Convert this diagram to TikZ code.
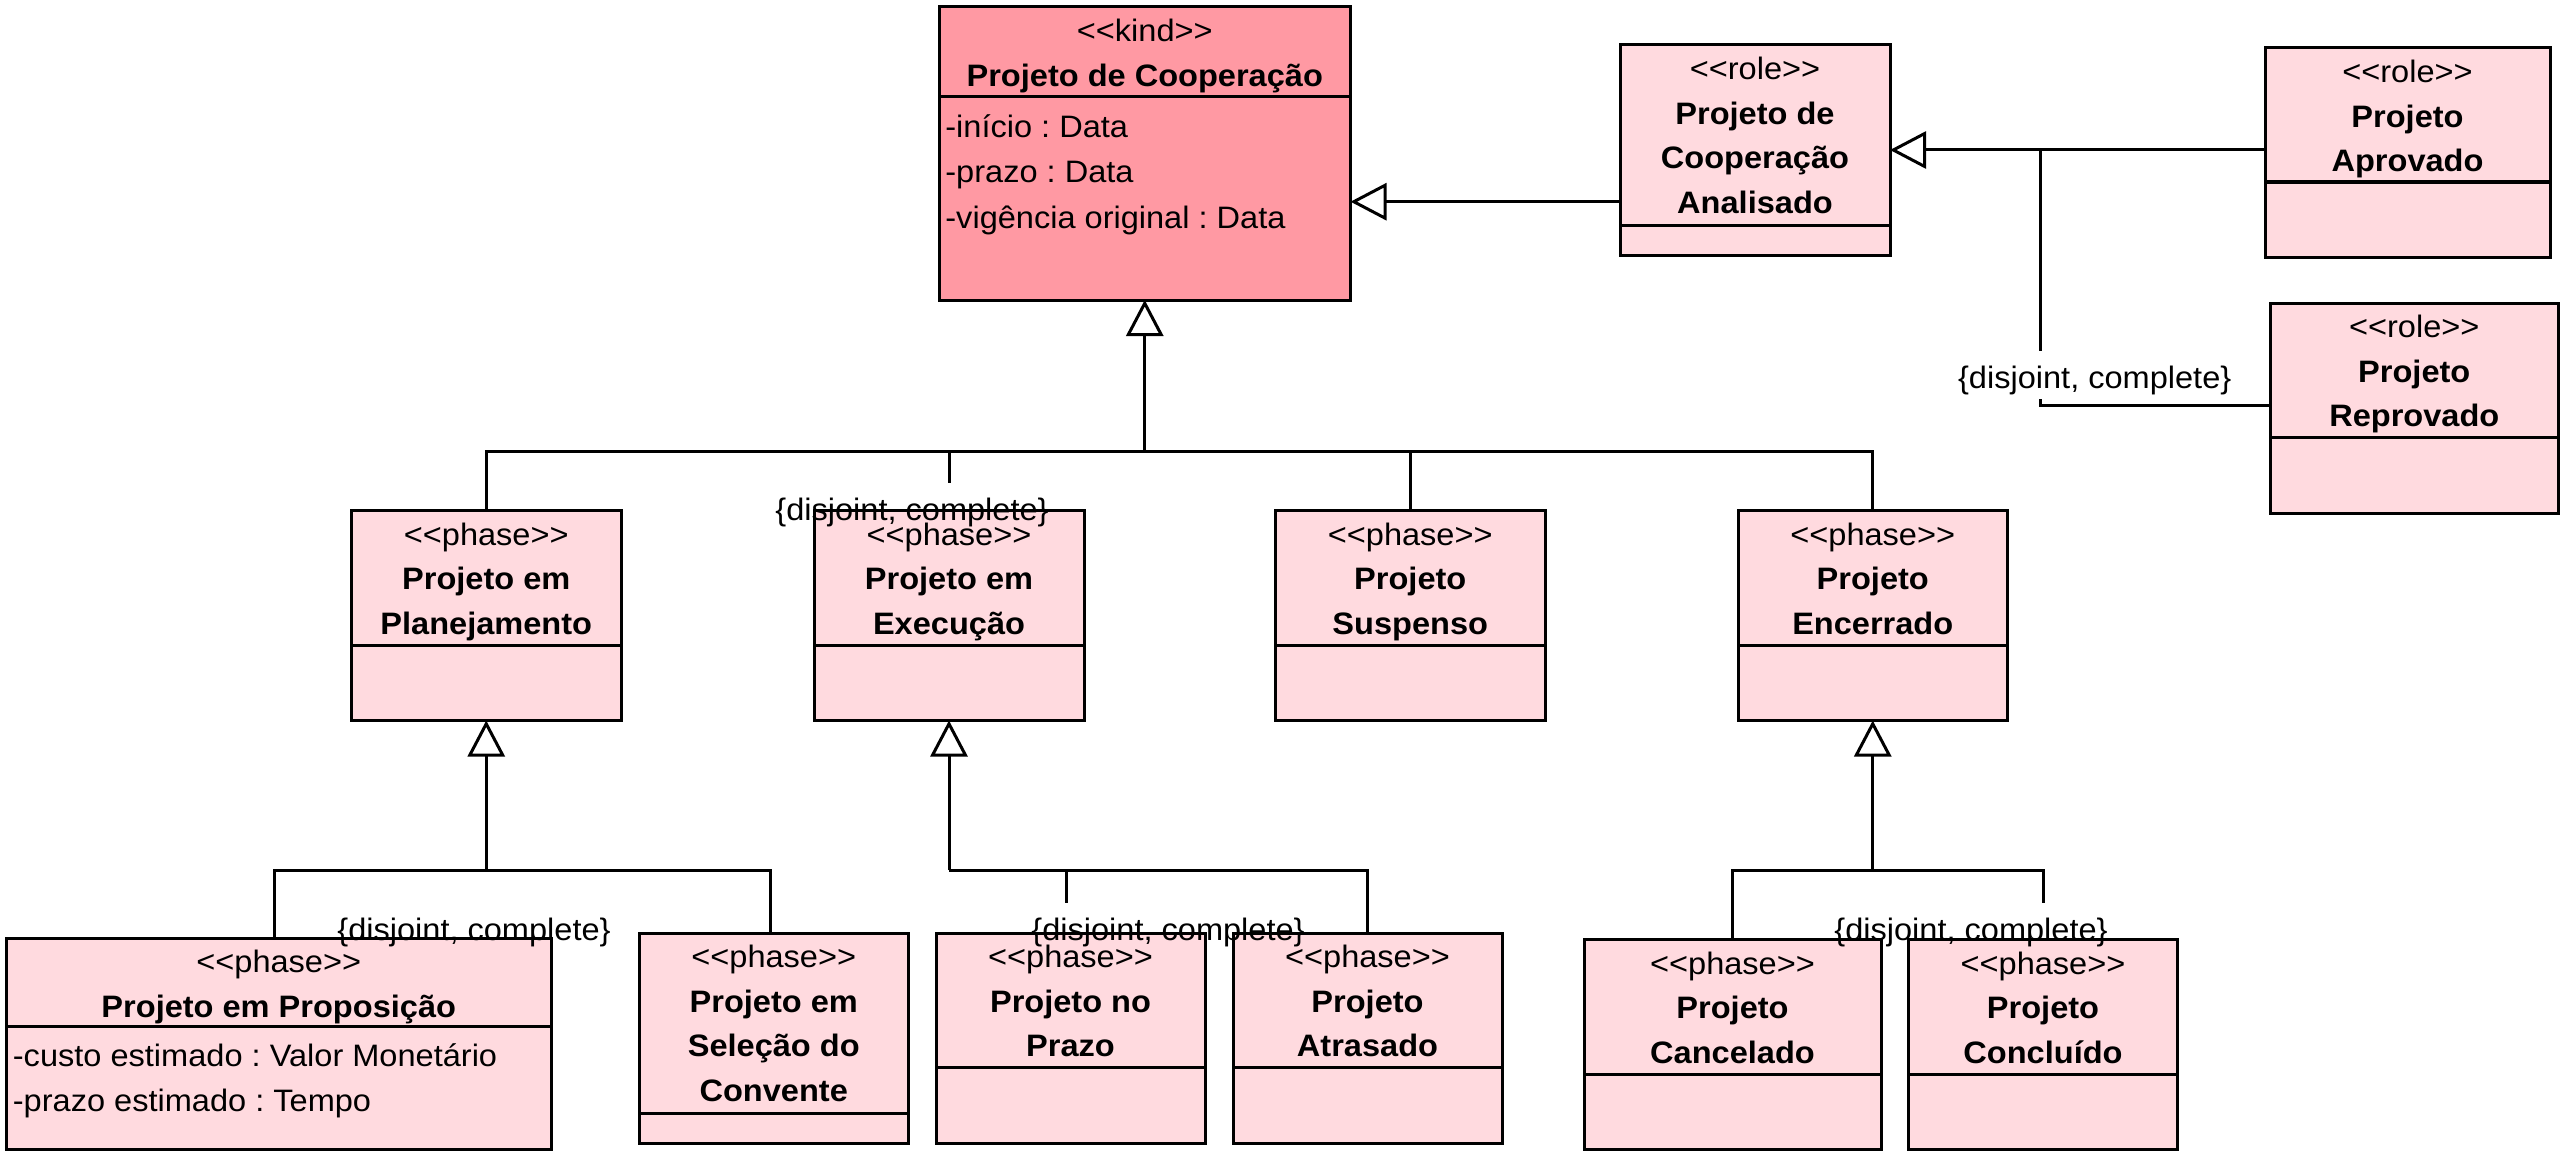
\documentclass[tikz,border=0pt]{standalone}
\usepackage{fontspec}
\newfontfamily\af{Liberation Sans}[FakeStretch=1.05,Ligatures=TeXOff]
\usetikzlibrary{arrows.meta}
\definecolor{kindc}{RGB}{255,153,163}
\definecolor{phc}{RGB}{255,218,223}
\frenchspacing
\tikzset{
  ln/.style={line width=1.5pt},
  gen/.style={ln, -{Triangle[open, length=18pt, width=18.5pt]}},
  umlbox/.style={draw, line width=1.5pt, rectangle, inner sep=0pt, outer sep=0pt},
  txt/.style={font=\af\fontsize{15.5pt}{18pt}\selectfont, inner sep=0pt, anchor=base},
  ttl/.style={txt, font=\af\bfseries\fontsize{15.5pt}{18pt}\selectfont},
  atr/.style={txt, anchor=base west},
  lbl/.style={txt, text height=18.5pt, text depth=5.5pt},
}
% name, x1, y1, x2, y2, ydivider, fill
\newcommand\mkbox[7]{%
  \node[umlbox, fill=#7, minimum width={(#4-#2)*0.5pt}, minimum height={(#5-#3)*0.5pt}] (#1) at ({(#2+#4)/2},{(#3+#5)/2}) {};
  \draw[ln] (#2,#6) -- (#4,#6);}
\begin{document}
\begin{tikzpicture}[x=0.5pt,y=-0.5pt]
\useasboundingbox[fill=white] (0,0) rectangle (2571,1161);

% ---------- boxes ----------
\mkbox{kind}{939}{7}{1350.5}{300}{96.5}{kindc}
\node[txt] (kind-s) at (1144.75,41.5) {<<kind>>};
\node[ttl] (kind-n) at (1144.75,86.5) {Projeto de Cooperação};
\node[atr] (kind-a1) at (945,137.3) {-início : Data};
\node[atr] (kind-a2) at (945,183) {-prazo : Data};
\node[atr] (kind-a3) at (945,228.5) {-vigência original : Data};

\mkbox{anal}{1620}{45}{1890}{255}{225.5}{phc}
\node[txt] (anal-s) at (1755,79.5) {<<role>>};
\node[ttl] (anal-n1) at (1755,124.5) {Projeto de};
\node[ttl] (anal-n2) at (1755,169) {Cooperação};
\node[ttl] (anal-n3) at (1755,213.5) {Analisado};

\mkbox{apr}{2265}{48}{2550}{257}{182}{phc}
\node[txt] (apr-s) at (2407.5,82.5) {<<role>>};
\node[ttl] (apr-n1) at (2407.5,127) {Projeto};
\node[ttl] (apr-n2) at (2407.5,171.5) {Aprovado};

\mkbox{rep}{2270.5}{303}{2558}{513}{437.5}{phc}
\node[txt] (rep-s) at (2414.25,337.5) {<<role>>};
\node[ttl] (rep-n1) at (2414.25,382) {Projeto};
\node[ttl] (rep-n2) at (2414.25,426.5) {Reprovado};

\mkbox{plan}{351}{510.5}{621.5}{720.5}{645.5}{phc}
\node[txt] (plan-s) at (486.25,545) {<<phase>>};
\node[ttl] (plan-n1) at (486.25,589.7) {Projeto em};
\node[ttl] (plan-n2) at (486.25,634.5) {Planejamento};

\mkbox{exe}{814}{510.5}{1084}{720.5}{645.5}{phc}
\node[txt] (exe-s) at (949,545) {<<phase>>};
\node[ttl] (exe-n1) at (949,589.7) {Projeto em};
\node[ttl] (exe-n2) at (949,634.5) {Execução};

\mkbox{susp}{1275.5}{510.5}{1545}{720.5}{645.5}{phc}
\node[txt] (susp-s) at (1410.25,545) {<<phase>>};
\node[ttl] (susp-n1) at (1410.25,589.7) {Projeto};
\node[ttl] (susp-n2) at (1410.25,634.5) {Suspenso};

\mkbox{enc}{1738}{510.5}{2007.5}{720.5}{645.5}{phc}
\node[txt] (enc-s) at (1872.75,545) {<<phase>>};
\node[ttl] (enc-n1) at (1872.75,589.7) {Projeto};
\node[ttl] (enc-n2) at (1872.75,634.5) {Encerrado};

\mkbox{prop}{6.5}{938}{551}{1149}{1026}{phc}
\node[txt] (prop-s) at (278.75,972.5) {<<phase>>};
\node[ttl] (prop-n) at (278.75,1017) {Projeto em Proposição};
\node[atr] (prop-a1) at (12.5,1066) {-custo estimado : Valor Monetário};
\node[atr] (prop-a2) at (12.5,1111) {-prazo estimado : Tempo};

\mkbox{sel}{639.5}{933}{908}{1143}{1113}{phc}
\node[txt] (sel-s) at (773.75,967.5) {<<phase>>};
\node[ttl] (sel-n1) at (773.75,1012) {Projeto em};
\node[ttl] (sel-n2) at (773.75,1056.5) {Seleção do};
\node[ttl] (sel-n3) at (773.75,1101) {Convente};

\mkbox{prz}{936}{933}{1205}{1143}{1067}{phc}
\node[txt] (prz-s) at (1070.5,967.5) {<<phase>>};
\node[ttl] (prz-n1) at (1070.5,1012) {Projeto no};
\node[ttl] (prz-n2) at (1070.5,1056.5) {Prazo};

\mkbox{atr}{1233}{933}{1502}{1143}{1067}{phc}
\node[txt] (atr-s) at (1367.5,967.5) {<<phase>>};
\node[ttl] (atr-n1) at (1367.5,1012) {Projeto};
\node[ttl] (atr-n2) at (1367.5,1056.5) {Atrasado};

\mkbox{can}{1584}{939.5}{1881}{1149.5}{1074}{phc}
\node[txt] (can-s) at (1732.5,974) {<<phase>>};
\node[ttl] (can-n1) at (1732.5,1018.5) {Projeto};
\node[ttl] (can-n2) at (1732.5,1063) {Cancelado};

\mkbox{con}{1908.5}{939.5}{2177.5}{1149.5}{1074}{phc}
\node[txt] (con-s) at (2043,974) {<<phase>>};
\node[ttl] (con-n1) at (2043,1018.5) {Projeto};
\node[ttl] (con-n2) at (2043,1063) {Concluído};

% ---------- generalization set labels ----------
\node[lbl] (lbltop) at (912,520) {\{disjoint, complete\}};
\node[lbl] (lblr) at (2094.7,388) {\{disjoint, complete\}};
\node[lbl] (lblp) at (474,940) {\{disjoint, complete\}};
\node[lbl] (lble) at (1168,940) {\{disjoint, complete\}};
\node[lbl] (lbln) at (1971,940) {\{disjoint, complete\}};

% ---------- connectors ----------
% phases of Projeto de Cooperacao
\coordinate (jk) at (1144.75,451);
\draw[gen] (jk) -- (kind.south);
\draw[ln] (plan.north) -- (plan.north |- jk) -- (enc.north |- jk) -- (enc.north);
\draw[ln] (susp.north) -- (susp.north |- jk);
\draw[ln] (exe.north |- jk) -- (exe.north |- lbltop.north);

% Analisado -> Projeto de Cooperacao
\coordinate (ak) at (1620,201.7);
\draw[gen] (anal.west |- ak) -- (kind.east |- ak);

% Aprovado / Reprovado -> Analisado
\coordinate (jr) at (2040.7,150);
\coordinate (rr) at (2040.7,405);
\draw[gen] (jr) -- (anal.east |- jr);
\draw[ln] (apr.west |- jr) -- (jr) -- (jr |- lblr.north);
\draw[ln] (jr |- lblr.south) -- (rr) -- (rep.west |- rr);

% Planejamento
\coordinate (jp) at (486.25,870);
\coordinate (jp1) at (274,870);
\coordinate (jp2) at (770,870);
\draw[gen] (jp) -- (plan.south);
\draw[ln] (jp1 |- prop.north) -- (jp1) -- (jp2) -- (jp2 |- sel.north);

% Execucao
\coordinate (je) at (949,870);
\coordinate (je1) at (1066,870);
\coordinate (je2) at (1367.5,870);
\draw[gen] (je) -- (exe.south);
\draw[ln] (je) -- (je2) -- (atr.north);
\draw[ln] (je1) -- (je1 |- lble.north);

% Encerrado
\coordinate (jn) at (1872.75,870);
\coordinate (jn1) at (1732.5,870);
\coordinate (jn2) at (2043,870);
\draw[gen] (jn) -- (enc.south);
\draw[ln] (can.north) -- (jn1) -- (jn2) -- (jn2 |- lbln.north);
\end{tikzpicture}
\end{document}
